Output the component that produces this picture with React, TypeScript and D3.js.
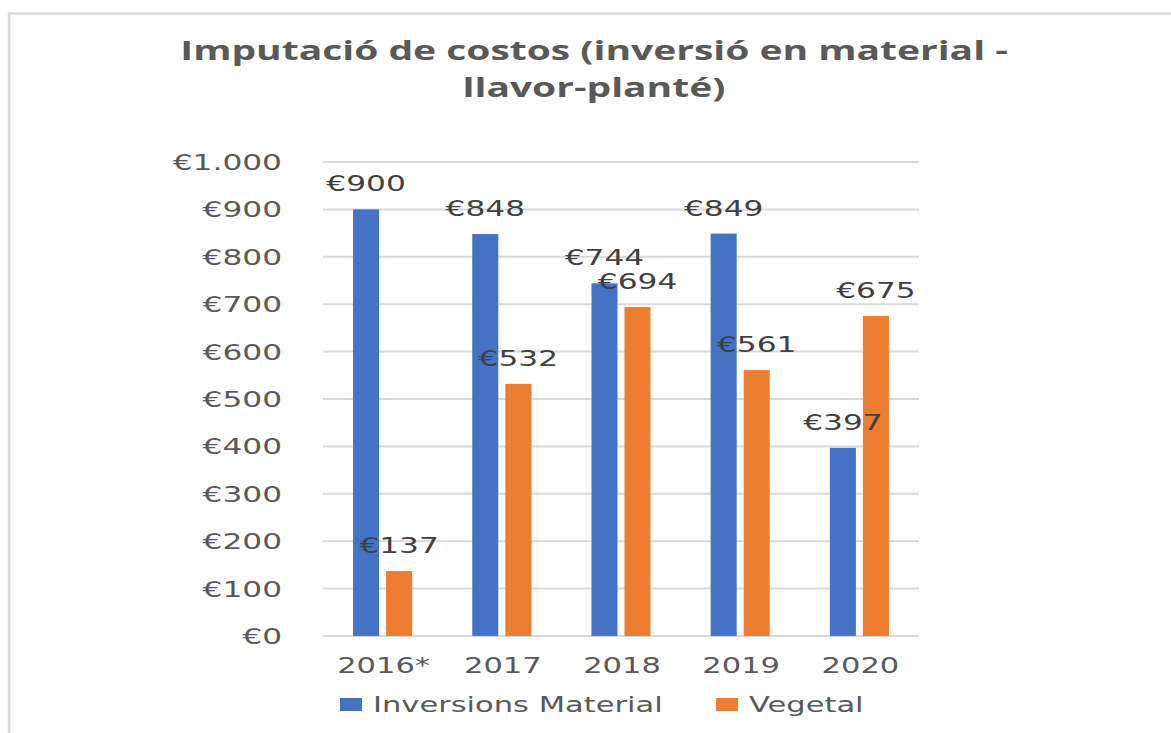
import React from 'react';
import * as d3 from 'd3';

const years = ['2016*', '2017', '2018', '2019', '2020'];
const seriesNames = ['Inversions Material', 'Vegetal'];
const material = [900, 848, 744, 849, 397];
const vegetal = [137, 532, 694, 561, 675];
const yTicks = [0, 100, 200, 300, 400, 500, 600, 700, 800, 900, 1000];
const titleLines = ['Imputació de costos (inversió en material -', 'llavor-planté)'];

const colors = ['#4472C4', '#ED7D31'];
const textColor = '#595959';
const gridColor = '#d9d9d9';
const font = '"DejaVu Sans", sans-serif';
const sx = 1.42; // the reference is stretched sideways

const fmt = (v: number) => '€' + d3.format(',')(v).replace(/,/g, '.');

const App = () => {
  const width = 1171;
  const height = 733;
  const plot = { left: 323, right: 919, top: 162, bottom: 636 };

  const x = d3.scaleBand().domain(years).range([plot.left, plot.right]);
  const xInner = d3.scaleBand()
    .domain(seriesNames)
    .range([0, x.bandwidth()])
    .paddingInner(0.212)
    .paddingOuter(0.91);
  const y = d3.scaleLinear().domain([0, 1000]).range([plot.bottom, plot.top]);

  const values = [material, vegetal];
  const bars = years.flatMap((yr, i) =>
    seriesNames.map((s, j) => ({ yr, s, j, v: values[j][i], bx: (x(yr) as number) + (xInner(s) as number) }))
  );

  return (
    <svg width={width} height={height} style={{ position: 'absolute', left: 0, top: 0, background: '#fff' }}>
      <rect x={9} y={13.5} width={width + 20} height={height + 20} fill="#fff" stroke={gridColor} strokeWidth={2.5} />

      {titleLines.map((t, i) => (
        <text key={t} transform={`translate(594,${60 + i * 37}) scale(1.5,1)`} textAnchor="middle"
          fontFamily='"Open Sans", sans-serif' fontWeight="bold" fontSize={26} fill={textColor}>{t}</text>
      ))}

      {yTicks.map(v => (
        <g key={v}>
          <line x1={plot.left} x2={plot.right} y1={y(v)} y2={y(v)} stroke={gridColor} strokeWidth={2} />
          <text transform={`translate(282,${y(v)}) scale(${sx},1)`} textAnchor="end" dy="0.36em"
            fontFamily={font} fontSize={22} fill={textColor}>{fmt(v)}</text>
        </g>
      ))}

      {bars.map(b => (
        <rect key={b.yr + b.s} x={b.bx} y={y(b.v)} width={xInner.bandwidth()} height={y(0) - y(b.v)} fill={colors[b.j]} />
      ))}

      {bars.map(b => (
        <text key={'l' + b.yr + b.s} transform={`translate(${b.bx + xInner.bandwidth() / 2},${y(b.v) - 18}) scale(${sx},1)`}
          textAnchor="middle" fontFamily={font} fontSize={22} fill="#404040">{fmt(b.v)}</text>
      ))}

      {years.map(yr => (
        <text key={yr} transform={`translate(${(x(yr) as number) + x.bandwidth() / 2 + 1},673) scale(${sx},1)`}
          textAnchor="middle" fontFamily={font} fontSize={21.5} fill={textColor}>{yr}</text>
      ))}

      {seriesNames.map((s, j) => {
        const lx = [340, 716][j];
        return (
          <g key={s}>
            <rect x={lx} y={698} width={22} height={13} fill={colors[j]} />
            <text transform={`translate(${lx + 33},712) scale(${sx},1)`} fontFamily={font} fontSize={21.5} fill={textColor}>{s}</text>
          </g>
        );
      })}
    </svg>
  );
};

export default App;
